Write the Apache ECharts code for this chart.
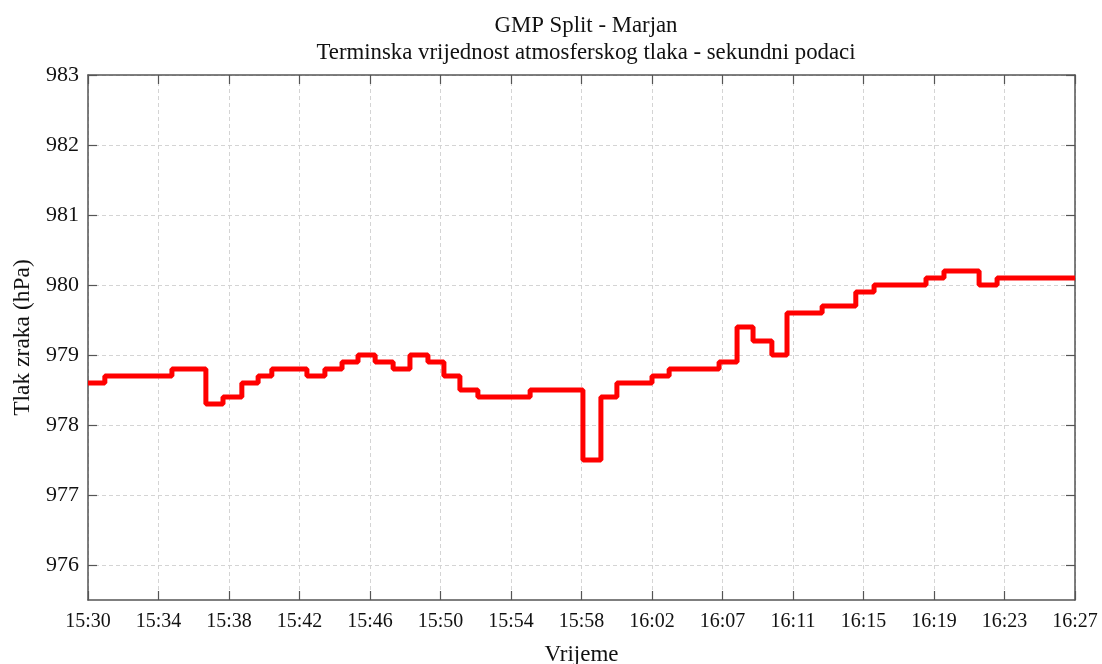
<!DOCTYPE html>
<html>
<head>
<meta charset="utf-8">
<title>GMP Split - Marjan</title>
<script src="https://cdn.jsdelivr.net/npm/echarts@6/dist/echarts.min.js"></script>
<style>
  html, body { margin: 0; padding: 0; background: #fff; }
  #chart { width: 1102px; height: 664px; }
</style>
</head>
<body>
<div id="chart"></div>
<script>
// Seconds after 15:30:00 at which the reported pressure changes
const stepTimes = [0, 59, 294, 413, 473, 539, 596, 644, 767, 830, 890, 946, 1006, 1069,
  1128, 1191, 1247, 1303, 1366, 1549, 1734, 1797, 1853, 1976, 2036, 2211, 2274, 2330,
  2396, 2449, 2572, 2690, 2754, 2936, 2999, 3122, 3185, 3458];
// Pressure (hPa) held from each change time until the next one
const pressure = [978.6, 978.7, 978.8, 978.3, 978.4, 978.6, 978.7, 978.8, 978.7, 978.8,
  978.9, 979.0, 978.9, 978.8, 979.0, 978.9, 978.7, 978.5, 978.4, 978.5, 977.5, 978.4,
  978.6, 978.7, 978.8, 978.9, 979.4, 979.2, 979.0, 979.6, 979.7, 979.9, 980.0, 980.1,
  980.2, 980.0, 980.1, 980.1];
// Time axis labels, one per evenly spaced tick
const timeLabels = ['15:30', '15:34', '15:38', '15:42', '15:46', '15:50', '15:54', '15:58',
  '16:02', '16:07', '16:11', '16:15', '16:19', '16:23', '16:27'];
// Pressure axis ticks (hPa)
const pressureTicks = [976, 977, 978, 979, 980, 981, 982, 983];

const spanSeconds = stepTimes[stepTimes.length - 1];
const tickStep = spanSeconds / (timeLabels.length - 1);

const serif = 'Liberation Serif';
const axisColor = '#555';
const gridLine = { show: true, lineStyle: { color: '#d4d4d4', type: [4, 3], width: 1 } };

const points = stepTimes.map((t, i) => [t, pressure[i]]);

const xBase = {
  type: 'value', min: 0, max: spanSeconds, interval: tickStep,
  axisLine: { show: true, onZero: false, lineStyle: { color: axisColor, width: 1.5 } },
  axisTick: { show: true, inside: true, length: 9, lineStyle: { color: axisColor, width: 1.2 } }
};
const yBase = {
  type: 'value', min: 975.5, max: 983,
  axisLine: { show: true, onZero: false, lineStyle: { color: axisColor, width: 1.5 } },
  axisTick: {
    show: true, inside: true, length: 9, customValues: pressureTicks,
    lineStyle: { color: axisColor, width: 1.2 }
  }
};

const chart = echarts.init(document.getElementById('chart'), null, { renderer: 'canvas' });
chart.setOption({
  backgroundColor: '#fff',
  animation: false,
  title: {
    text: 'GMP Split - Marjan\nTerminska vrijednost atmosferskog tlaka - sekundni podaci',
    left: 581, top: 8, textAlign: 'center',
    textStyle: { fontFamily: serif, fontSize: 22.8, fontWeight: 'normal', color: '#111', lineHeight: 27 }
  },
  grid: { left: 88, right: 27, top: 75, bottom: 64, containLabel: false, outerBoundsMode: 'none' },
  xAxis: [
    Object.assign({}, xBase, {
      position: 'bottom',
      name: 'Vrijeme', nameLocation: 'middle', nameGap: 43,
      nameTextStyle: { fontFamily: serif, fontSize: 23, color: '#111' },
      splitLine: gridLine,
      axisLabel: {
        fontFamily: serif, fontSize: 20, color: '#111', margin: 12,
        formatter: v => timeLabels[Math.round(v / tickStep)] || ''
      }
    }),
    Object.assign({}, xBase, {
      position: 'top', splitLine: { show: false }, axisLabel: { show: false }
    })
  ],
  yAxis: [
    Object.assign({}, yBase, {
      position: 'left',
      name: 'Tlak zraka (hPa)', nameLocation: 'middle', nameGap: 53, nameRotate: 90,
      nameTextStyle: { fontFamily: serif, fontSize: 23.5, color: '#111' },
      splitLine: gridLine,
      axisLabel: {
        fontFamily: serif, fontSize: 22, color: '#111', margin: 9,
        customValues: pressureTicks
      }
    }),
    Object.assign({}, yBase, {
      position: 'right', splitLine: { show: false }, axisLabel: { show: false }
    })
  ],
  series: [{
    type: 'line',
    step: 'end',
    data: points,
    showSymbol: false,
    lineStyle: { color: '#ff0000', width: 5 },
    clip: true
  }]
});
</script>
</body>
</html>
